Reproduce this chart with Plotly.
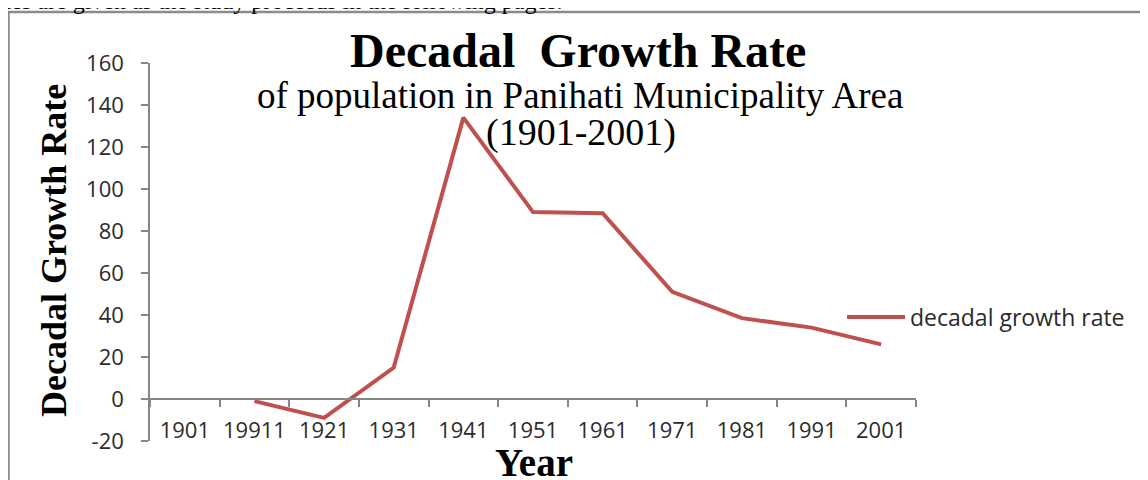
import plotly.graph_objects as go

# decadal growth rate (%) per census year
years = ["1901", "19911", "1921", "1931", "1941", "1951",
         "1961", "1971", "1981", "1991", "2001"]
growth = [None, -1, -9, 15, 134, 89, 88.5, 51, 38.5, 34, 26]
y_ticks = [-20, 0, 20, 40, 60, 80, 100, 120, 140, 160]
y_tick_labels = ["-20", "0", "20", "40", "60", "80", "100", "120", "140", "160"]

RED = "#C0504D"
AXIS = "#868686"
TXT = "#2b2b2b"
SERIF = "Liberation Serif, Times New Roman, serif"
SANS = "Open Sans, Lato, sans-serif"

# the page body adds an 8px margin, so work in window px and shift by it
OFF = 8
# plot area in window px: x 150..916, y 63..441
L, R, T, B = 150 - OFF, 916 - OFF, 63 - OFF, 441 - OFF


def px(x):
    return (x - OFF - L) / (R - L)


def py(y):
    return (B - (y - OFF)) / (B - T)


fig = go.Figure(
    go.Scatter(
        x=years,
        y=growth,
        mode="lines",
        name="decadal growth rate",
        line=dict(color=RED, width=4),
        connectgaps=False,
        hovertemplate="%{x}: %{y}<extra></extra>",
    )
)

fig.update_layout(
    width=1148,
    height=480,
    margin=dict(l=L, r=1148 - R, t=T, b=480 - B),
    paper_bgcolor="white",
    plot_bgcolor="white",
    font=dict(family=SANS, size=22, color=TXT),
    showlegend=True,
    legend=dict(
        x=px(842),
        y=py(317),
        xanchor="left",
        yanchor="middle",
        font=dict(family=SANS, size=23, color=TXT),
        bgcolor="rgba(0,0,0,0)",
        itemwidth=58,
    ),
    xaxis=dict(
        type="category",
        categoryorder="array",
        categoryarray=years,
        range=[-0.5, len(years) - 0.5],
        anchor="free",
        position=20 / 180,
        showline=True,
        linecolor=AXIS,
        linewidth=1.5,
        ticks="outside",
        tickson="boundaries",
        ticklen=7,
        tickcolor=AXIS,
        tickwidth=1.5,
        tickangle=0,
        tickfont=dict(size=22),
        ticklabelstandoff=12,
        showgrid=False,
        zeroline=False,
    ),
    yaxis=dict(
        range=[-20, 160],
        tickvals=y_ticks,
        ticktext=y_tick_labels,
        showline=True,
        linecolor=AXIS,
        linewidth=1.5,
        ticks="outside",
        ticklen=7,
        tickcolor=AXIS,
        tickwidth=1.5,
        ticklabelstandoff=13,
        showgrid=False,
        zeroline=False,
    ),
    annotations=[
        # cut-off line of page text above the chart box
        dict(text="ties are given as the study proceeds in the following pages.",
             x=px(-4), y=py(1), xref="paper", yref="paper",
             xanchor="left", yanchor="middle", showarrow=False,
             font=dict(family=SERIF, size=24, color="black")),
        dict(text="Decadal\u00a0 Growth Rate",
             x=px(578), y=py(51), xref="paper", yref="paper",
             xanchor="center", yanchor="middle", showarrow=False,
             font=dict(family=SERIF, size=48, color="black", weight="bold")),
        dict(text="of population in Panihati Municipality Area",
             x=px(580), y=py(95), xref="paper", yref="paper",
             xanchor="center", yanchor="middle", showarrow=False,
             font=dict(family=SERIF, size=37, color="black")),
        dict(text="(1901-2001)",
             x=px(581), y=py(132), xref="paper", yref="paper",
             xanchor="center", yanchor="middle", showarrow=False,
             font=dict(family=SERIF, size=38, color="black")),
        dict(text="Decadal Growth Rate",
             x=px(54), y=py(251), xref="paper", yref="paper",
             xanchor="center", yanchor="middle", showarrow=False, textangle=-90,
             font=dict(family=SERIF, size=36, color="black", weight="bold")),
        dict(text="Year",
             x=px(534), y=py(462), xref="paper", yref="paper",
             xanchor="center", yanchor="middle", showarrow=False,
             font=dict(family=SERIF, size=39, color="black", weight="bold")),
    ],
    shapes=[
        # border of the chart box (left + top visible)
        dict(type="path", xref="paper", yref="paper",
             path=f"M {px(8.5)} {py(500)} L {px(8.5)} {py(12)} L {px(1160)} {py(12)}",
             line=dict(color="#8c8c8c", width=2.5)),
    ],
)

fig.write_html("out.html")
